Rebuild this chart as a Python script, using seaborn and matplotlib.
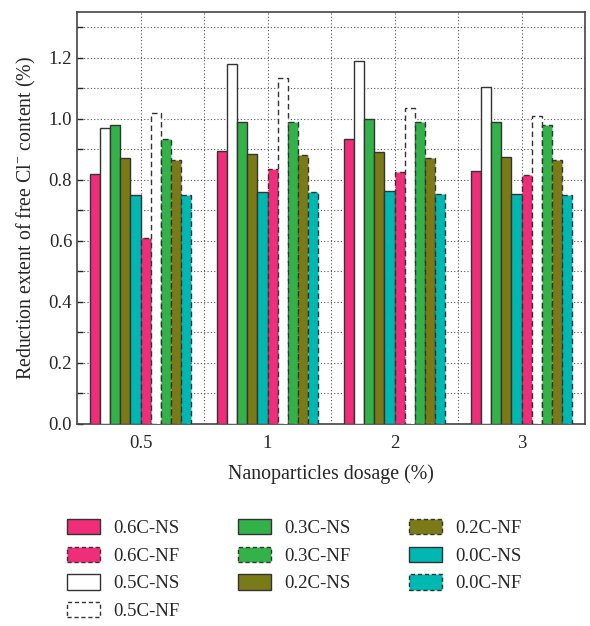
import numpy as np
import pandas as pd
import matplotlib
matplotlib.use("Agg")
import matplotlib.pyplot as plt
import seaborn as sns
from matplotlib.patches import Patch
from matplotlib.ticker import MultipleLocator

dosages = ["0.5", "1", "2", "3"]
series = ["0.6C-NS", "0.5C-NS", "0.3C-NS", "0.2C-NS", "0.0C-NS",
          "0.6C-NF", "0.5C-NF", "0.3C-NF", "0.2C-NF", "0.0C-NF"]
v_06NS = [0.82, 0.895, 0.935, 0.83]
v_05NS = [0.97, 1.18, 1.19, 1.105]
v_03NS = [0.98, 0.99, 1.00, 0.99]
v_02NS = [0.87, 0.885, 0.89, 0.875]
v_00NS = [0.75, 0.76, 0.765, 0.755]
v_06NF = [0.61, 0.835, 0.825, 0.815]
v_05NF = [1.02, 1.135, 1.035, 1.01]
v_03NF = [0.935, 0.99, 0.99, 0.98]
v_02NF = [0.865, 0.88, 0.87, 0.865]
v_00NF = [0.75, 0.76, 0.755, 0.75]
values = [v_06NS, v_05NS, v_03NS, v_02NS, v_00NS,
          v_06NF, v_05NF, v_03NF, v_02NF, v_00NF]

pink, white, green, olive, teal = "#F02D78", "#FFFFFF", "#33B24A", "#7A7A18", "#00B8B2"
colors = [pink, white, green, olive, teal, pink, white, green, olive, teal]
legend_order = ["0.6C-NS", "0.6C-NF", "0.5C-NS", "0.5C-NF", "0.3C-NS",
                "0.3C-NF", "0.2C-NS", "0.2C-NF", "0.0C-NS", "0.0C-NF"]

rows = []
for s, vals in zip(series, values):
    for d, v in zip(dosages, vals):
        rows.append({"dosage": d, "series": s, "value": v})
df = pd.DataFrame(rows)

sns.set_style("ticks")
plt.rcParams["font.family"] = ["Liberation Serif", "DejaVu Serif"]
plt.rcParams["mathtext.fontset"] = "custom"
plt.rcParams["mathtext.rm"] = "Liberation Serif"

fig = plt.figure(figsize=(5.9, 6.26), dpi=100)
ax = fig.add_axes([77/590, 1-424/626, (585-77)/590, (424-12)/626])

sns.barplot(data=df, x="dosage", y="value", hue="series", hue_order=series,
            order=dosages, palette=dict(zip(series, colors)), width=0.8,
            saturation=1, edgecolor="#333333", linewidth=1.0, ax=ax, legend=False,
            errorbar=None, zorder=3)

for s, cont in zip(series, ax.containers):
    if s.endswith("NF"):
        for p in cont:
            p.set_linestyle((0, (4, 2.5)))

ax.set_ylim(0, 1.35)
ax.set_xlim(-0.5, 3.5)
ax.yaxis.set_minor_locator(MultipleLocator(0.1))
ax.set_yticks(np.arange(0, 1.21, 0.2))
ax.set_yticklabels([f"{t:.1f}" for t in np.arange(0, 1.21, 0.2)])
ax.set_xticks([0.5, 1.5, 2.5], minor=True)
ax.grid(True, which="both", linestyle=(0, (1, 2)), color="#555555", linewidth=0.8, zorder=0)
ax.set_axisbelow(True)
ax.tick_params(axis="y", which="both", direction="in", length=4, labelsize=13.5, width=1)
ax.tick_params(axis="x", which="both", length=0, labelsize=13.5, pad=8)
for sp in ax.spines.values():
    sp.set_color("#444444")
    sp.set_linewidth(1.2)

ax.set_xlabel("Nanoparticles dosage (%)", fontsize=14.3, labelpad=9)
ax.set_ylabel(r"Reduction extent of free Cl$^{-}$ content (%)", fontsize=14.3, labelpad=8)

cmap = dict(zip(series, colors))
handles = [Patch(facecolor=cmap[s], edgecolor="#333333", linewidth=1.0,
                 linestyle=(0, (3, 2)) if s.endswith("NF") else "-") for s in legend_order]
fig.legend(handles, legend_order, ncol=3, loc="upper left",
           bbox_to_anchor=(50/590, 1-502/626), frameon=False, fontsize=13.5,
           handlelength=1.75, handleheight=0.9, handletextpad=0.7,
           columnspacing=3.15, labelspacing=0.5)

fig.savefig("out.png", dpi=100)
